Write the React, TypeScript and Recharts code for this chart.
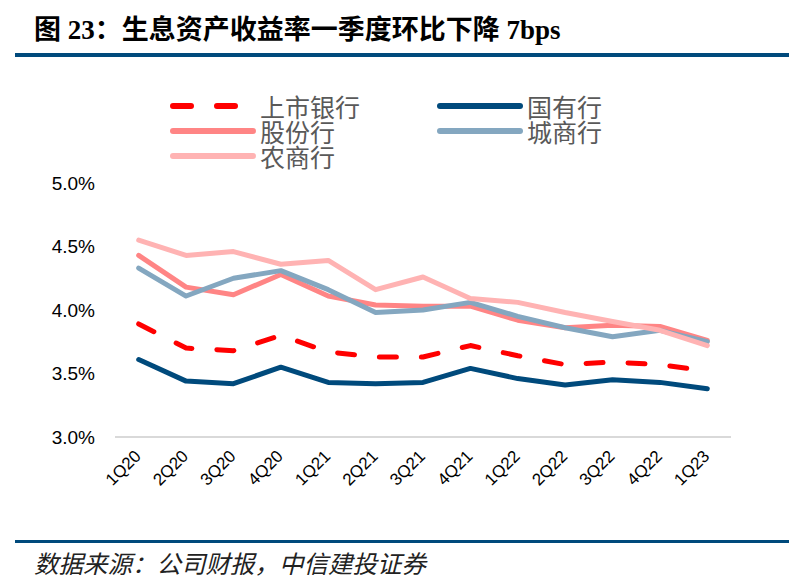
import React from 'react';
import { LineChart, Line, XAxis, YAxis } from 'recharts';

const categories = ['1Q20', '2Q20', '3Q20', '4Q20', '1Q21', '2Q21', '3Q21', '4Q21', '1Q22', '2Q22', '3Q22', '4Q22', '1Q23'];
const listedBanks = [3.89, 3.70, 3.68, 3.80, 3.67, 3.63, 3.63, 3.72, 3.64, 3.57, 3.59, 3.57, 3.52];
const stateOwned = [3.61, 3.44, 3.42, 3.55, 3.43, 3.42, 3.43, 3.54, 3.46, 3.41, 3.45, 3.43, 3.38];
const jointStock = [4.43, 4.18, 4.12, 4.28, 4.11, 4.04, 4.03, 4.03, 3.92, 3.86, 3.88, 3.87, 3.76];
const cityComm = [4.33, 4.11, 4.25, 4.31, 4.16, 3.98, 4.00, 4.06, 3.95, 3.86, 3.79, 3.84, 3.75];
const ruralComm = [4.55, 4.43, 4.46, 4.36, 4.39, 4.16, 4.26, 4.09, 4.06, 3.98, 3.91, 3.84, 3.72];
const yTicks = [3.0, 3.5, 4.0, 4.5, 5.0];

const series = [
  { key: 'listed', name: '上市银行', values: listedBanks, color: '#FF0000', dashed: true },
  { key: 'state', name: '国有行', values: stateOwned, color: '#004A7C', dashed: false },
  { key: 'joint', name: '股份行', values: jointStock, color: '#FF8585', dashed: false },
  { key: 'city', name: '城商行', values: cityComm, color: '#84A7C0', dashed: false },
  { key: 'rural', name: '农商行', values: ruralComm, color: '#FFB3B3', dashed: false },
];

const data = categories.map((c, i) => {
  const row: Record<string, number | string> = { i, cat: c };
  series.forEach((s) => {
    row[s.key] = s.values[i];
  });
  return row;
});

const centerTicks = categories.map((_, i) => i);
const boundaryTicks = [...categories.map((_, i) => i - 0.5), categories.length - 0.5];

const CatTick = (props: any) => {
  const { x, y, payload } = props;
  return (
    <g transform={`translate(${x - 1},${y + 16})`}>
      <text
        textAnchor="end"
        transform="rotate(-45)"
        dy="0.35em"
        fontSize={17}
        fontFamily="'Liberation Sans', Arial, sans-serif"
        fill="#000"
      >
        {categories[payload.value]}
      </text>
    </g>
  );
};

const legendLayout = [
  { key: 'listed', left: 170, top: 106 },
  { key: 'state', left: 437, top: 106 },
  { key: 'joint', left: 170, top: 131 },
  { key: 'city', left: 437, top: 131 },
  { key: 'rural', left: 170, top: 156 },
];

export default function App() {
  return (
    <div style={{ position: 'absolute', left: 0, top: 0, width: 789, height: 582, background: '#fff', overflow: 'hidden' }}>
      <div
        style={{
          position: 'absolute',
          left: 34,
          top: 13,
          fontSize: 27,
          fontWeight: 'bold',
          fontFamily: "'Liberation Serif', 'Noto Sans CJK SC', serif",
          color: '#000',
          whiteSpace: 'nowrap',
          lineHeight: '34px',
        }}
      >
        图 23：生息资产收益率一季度环比下降 7bps
      </div>
      <div style={{ position: 'absolute', left: 15, top: 53, width: 774, height: 4, background: '#004A7C' }} />

      {legendLayout.map((l) => {
        const s = series.find((x) => x.key === l.key)!;
        return (
          <div key={l.key} style={{ position: 'absolute', left: l.left, top: l.top - 12, height: 24, display: 'flex', alignItems: 'center' }}>
            <svg width={86} height={12} style={{ display: 'block' }}>
              <line
                x1={3}
                y1={6}
                x2={s.dashed ? 67 : 83}
                y2={6}
                stroke={s.color}
                strokeWidth={6}
                strokeLinecap="round"
                strokeDasharray={s.dashed ? '18 26' : undefined}
              />
            </svg>
            <span
              style={{
                marginLeft: 4,
                fontSize: 25,
                lineHeight: '24px',
                height: 24,
                color: '#595959',
                fontFamily: "'Noto Sans CJK SC', sans-serif",
                whiteSpace: 'nowrap',
              }}
            >
              {s.name}
            </span>
          </div>
        );
      })}

      <div style={{ position: 'absolute', left: 0, top: 0 }}>
        <LineChart width={789} height={582} data={data} margin={{ top: 183, right: 58, left: 0, bottom: 86 }}>
          <XAxis
            xAxisId="frame"
            type="number"
            dataKey="i"
            domain={[-0.5, categories.length - 0.5]}
            ticks={boundaryTicks}
            tick={false}
            mirror
            height={1}
            tickSize={6}
            axisLine={{ stroke: '#D9D9D9', strokeWidth: 2 }}
            tickLine={{ stroke: '#D9D9D9', strokeWidth: 2 }}
          />
          <XAxis
            xAxisId="cat"
            type="number"
            dataKey="i"
            domain={[-0.5, categories.length - 0.5]}
            ticks={centerTicks}
            interval={0}
            axisLine={false}
            tickLine={false}
            tickSize={0}
            tickMargin={0}
            height={59}
            tick={<CatTick />}
          />
          <YAxis
            type="number"
            domain={[3.0, 5.0]}
            ticks={yTicks}
            width={115}
            axisLine={false}
            tickLine={false}
            tickMargin={14}
            tickFormatter={(v: number) => `${v.toFixed(1)}%`}
            tick={{ fontSize: 19, fill: '#000', fontFamily: "'Liberation Sans', Arial, sans-serif" }}
          />
          {series.map((s) => (
            <Line
              key={s.key}
              xAxisId="cat"
              type="linear"
              dataKey={s.key}
              name={s.name}
              stroke={s.color}
              strokeWidth={5}
              strokeDasharray={s.dashed ? '17 25' : undefined}
              strokeLinecap="round"
              strokeLinejoin="round"
              dot={false}
              activeDot={false}
              isAnimationActive={false}
            />
          ))}
        </LineChart>
      </div>

      <div style={{ position: 'absolute', left: 15, top: 540, width: 774, height: 3, background: '#004A7C' }} />
      <div
        style={{
          position: 'absolute',
          left: 34,
          top: 548,
          fontSize: 24.5,
          fontStyle: 'italic',
          fontFamily: "'Noto Sans CJK SC', sans-serif",
          color: '#222',
          whiteSpace: 'nowrap',
          lineHeight: '30px',
        }}
      >
        数据来源：公司财报，中信建投证券
      </div>
    </div>
  );
}
